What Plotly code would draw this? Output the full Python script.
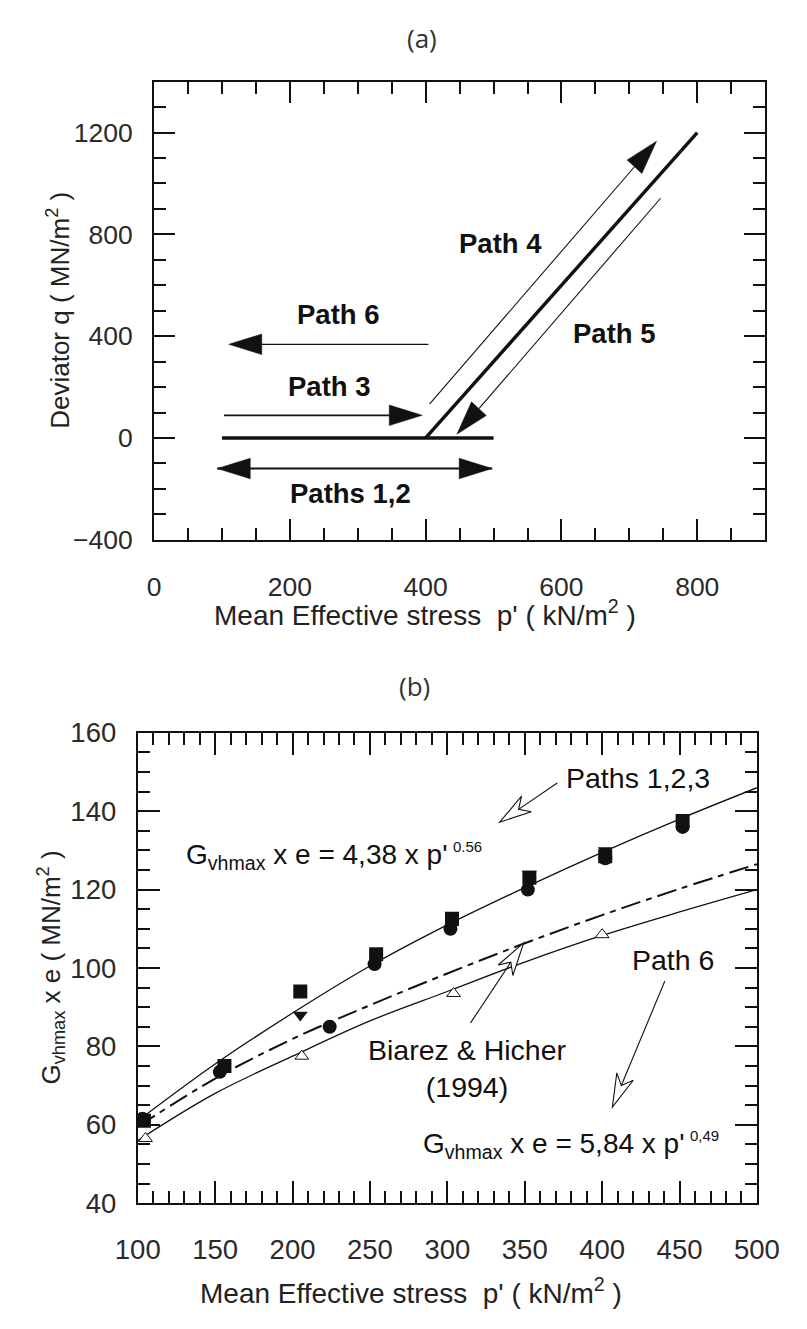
import math
import plotly.graph_objects as go

W, H = 807, 1329
FONT = "Liberation Sans, Arial, sans-serif"
INK = "#111111"

# ---------------- (a) stress paths in p'-q space ----------------
# thick reference paths
iso_p = [100, 500]
iso_q = [0, 0]
shear_p = [400, 800]
shear_q = [0, 1200]

# thin direction arrows: tail -> tip
arrow_tail_p = [406, 746, 404, 103]
arrow_tail_q = [134, 942, 368, 89]
arrow_tip_p = [740, 446, 110, 395]
arrow_tip_q = [1166, 15, 368, 89]
arrow_width = [1.1, 1.1, 1.4, 1.6]

# double-headed arrow for Paths 1,2
both_p = [93, 498]
both_q = [-120, -120]

path_labels = ["Path 4", "Path 5", "Path 6", "Path 3", "Paths 1,2"]
label_p = [510, 678, 271, 258, 290]
label_q = [764, 412, 485, 201, -218]

# ---------------- (b) stiffness vs mean effective stress ----------------
p_fit = [100, 150, 200, 250, 300, 350, 400, 450, 500]
g_paths123 = [61, 75.5, 88.5, 100.5, 111, 120.5, 129.5, 138, 146]
g_biarez = [59.5, 71.8, 81.9, 90.5, 98.6, 106.3, 113.5, 120.2, 126.5]
g_path6 = [56, 68, 77.5, 86.5, 94, 101.5, 108.3, 114.3, 120]

sq_p = [104, 156, 205, 254, 303, 353, 402, 452]
sq_g = [61, 75, 94, 103.5, 112.5, 123, 128.5, 137.5]
ci_p = [103, 153, 224, 253, 302, 352, 402, 452]
ci_g = [61.5, 73.5, 85, 101, 110, 120, 128, 136]
td_p = [205, 303, 353, 402]
td_g = [88, 113.5, 124, 130]
p6_p = [105, 206, 304, 400]
p6_g = [56.5, 77.5, 93.5, 108.5]

# ---------------- plot-area placement (pixels) ----------------
A_L, A_R, A_T, A_B = 139, 787, 68.3, 537.3
B_L, B_R, B_T, B_B = 121.7, 778.3, 735, 1216.5
A_X, A_Y = [0, 900], [-400, 1400]
B_X, B_Y = [100, 500], [40, 160]


def px_scale(l, r, t, b, xr, yr):
    return (r - l) / (xr[1] - xr[0]), (b - t) / (yr[1] - yr[0])


SA = px_scale(A_L, A_R, A_T, A_B, A_X, A_Y)
SB = px_scale(B_L, B_R, B_T, B_B, B_X, B_Y)


def head_points(tail, tip, scale, length, width, notch=0.0):
    """Arrowhead polygon (tip, barb, notch, barb) sized in pixels, returned in data units."""
    sx, sy = scale
    dx = (tip[0] - tail[0]) * sx
    dy = (tip[1] - tail[1]) * sy
    n = math.hypot(dx, dy)
    ux, uy = dx / n, dy / n
    nx, ny = -uy, ux
    bx, by = -ux * length, -uy * length
    pts = [(0, 0),
           (bx + nx * width / 2, by + ny * width / 2),
           (-ux * (length - notch), -uy * (length - notch)),
           (bx - nx * width / 2, by - ny * width / 2)]
    return [(tip[0] + px / sx, tip[1] + py / sy) for px, py in pts]


def path_str(pts):
    return "M" + " L".join(f"{x:.3f},{y:.3f}" for x, y in pts) + " Z"


fig = go.Figure()
shapes = []

# thick lines
for xs, ys in [(iso_p, iso_q), (shear_p, shear_q)]:
    fig.add_trace(go.Scatter(x=xs, y=ys, mode="lines", line=dict(color=INK, width=3.4),
                             xaxis="x", yaxis="y", showlegend=False, hoverinfo="skip"))

# single-headed thin arrows
for tp, tq, hp, hq, lw in zip(arrow_tail_p, arrow_tail_q, arrow_tip_p, arrow_tip_q, arrow_width):
    pts = head_points((tp, tq), (hp, hq), SA, 35, 21)
    fig.add_trace(go.Scatter(x=[tp, pts[2][0]], y=[tq, pts[2][1]], mode="lines",
                             line=dict(color=INK, width=lw), xaxis="x", yaxis="y",
                             showlegend=False, hoverinfo="skip"))
    shapes.append(dict(type="path", xref="x", yref="y", path=path_str(pts),
                       fillcolor=INK, line=dict(color=INK, width=0.5)))

# double-headed arrow
fig.add_trace(go.Scatter(x=both_p, y=both_q, mode="lines", line=dict(color=INK, width=1.8),
                         xaxis="x", yaxis="y", showlegend=False, hoverinfo="skip"))
for a, b in [(1, 0), (0, 1)]:
    pts = head_points((both_p[a], both_q[a]), (both_p[b], both_q[b]), SA, 35, 21)
    shapes.append(dict(type="path", xref="x", yref="y", path=path_str(pts),
                       fillcolor=INK, line=dict(color=INK, width=0.5)))

# fitted curves
fig.add_trace(go.Scatter(x=p_fit, y=g_paths123, mode="lines", line=dict(color=INK, width=1.3, shape="spline"),
                         xaxis="x2", yaxis="y2", showlegend=False))
fig.add_trace(go.Scatter(x=p_fit, y=g_path6, mode="lines", line=dict(color=INK, width=1.3, shape="spline"),
                         xaxis="x2", yaxis="y2", showlegend=False))
fig.add_trace(go.Scatter(x=p_fit, y=g_biarez, mode="lines",
                         line=dict(color=INK, width=2, shape="spline", dash="20px,6px,6px,6px"),
                         xaxis="x2", yaxis="y2", showlegend=False))

# measured points
fig.add_trace(go.Scatter(x=sq_p, y=sq_g, mode="markers", xaxis="x2", yaxis="y2", showlegend=False,
                         marker=dict(symbol="square", size=14, color=INK)))
fig.add_trace(go.Scatter(x=td_p, y=td_g, mode="markers", xaxis="x2", yaxis="y2", showlegend=False,
                         marker=dict(symbol="triangle-down", size=13, color=INK)))
fig.add_trace(go.Scatter(x=ci_p, y=ci_g, mode="markers", xaxis="x2", yaxis="y2", showlegend=False,
                         marker=dict(symbol="circle", size=14, color=INK)))
fig.add_trace(go.Scatter(x=p6_p, y=p6_g, mode="markers", xaxis="x2", yaxis="y2", showlegend=False,
                         marker=dict(symbol="triangle-up", size=12, color="white",
                                     line=dict(color=INK, width=1))))

# hollow pointer arrows in (b): tail -> tip
ptr_tail_p = [371, 315, 440.5]
ptr_tail_g = [147.2, 86, 96.7]
ptr_tip_p = [333.8, 349.3, 406.6]
ptr_tip_g = [137.2, 106.4, 64.5]
for tp, tg, hp, hg in zip(ptr_tail_p, ptr_tail_g, ptr_tip_p, ptr_tip_g):
    pts = head_points((tp, tg), (hp, hg), SB, 34, 19, notch=10)
    fig.add_trace(go.Scatter(x=[tp, pts[2][0]], y=[tg, pts[2][1]], mode="lines",
                             line=dict(color=INK, width=1.1), xaxis="x2", yaxis="y2",
                             showlegend=False, hoverinfo="skip"))
    shapes.append(dict(type="path", xref="x2", yref="y2", path=path_str(pts),
                       fillcolor="white", line=dict(color=INK, width=1.1)))


def axis(dom, rng, tickvals, minor, anchor, major_len, side_standoff, fsize):
    return dict(domain=dom, range=rng, anchor=anchor, tickvals=tickvals,
                ticks="inside", ticklen=major_len, tickwidth=1.5, tickcolor=INK,
                minor=dict(dtick=minor, ticks="inside", ticklen=12, tickwidth=1.5, tickcolor=INK),
                mirror="allticks", showline=True, linewidth=2, linecolor=INK,
                showgrid=False, zeroline=False,
                tickfont=dict(family=FONT, size=fsize, color="#2a2a2a"),
                ticklabelstandoff=side_standoff)


fig.update_layout(
    width=W, height=H, margin=dict(l=0, r=0, t=0, b=0), autosize=False,
    paper_bgcolor="white", plot_bgcolor="white",
    xaxis=axis([A_L / W, A_R / W], A_X, [0, 200, 400, 600, 800], 50, "y", 21, 22, 26.5),
    yaxis=axis([1 - A_B / H, 1 - A_T / H], A_Y, [-400, 0, 400, 800, 1200], 100, "x", 21, 14, 26.5),
    xaxis2=axis([B_L / W, B_R / W], B_X, [100, 150, 200, 250, 300, 350, 400, 450, 500], 10, "y2", 22, 21, 27.5),
    yaxis2=axis([1 - B_B / H, 1 - B_T / H], B_Y, [40, 60, 80, 100, 120, 140, 160], 5, "x2", 22, 14, 27.5),
    shapes=shapes,
)

ann = []


def px_text(text, x, y, size, angle=0, family=FONT, color="#222222"):
    ann.append(dict(text=text, x=x / W, y=1 - y / H, xref="paper", yref="paper", showarrow=False,
                    xanchor="center", yanchor="middle", textangle=angle,
                    font=dict(family=family, size=size, color=color)))


px_text("(a)", 423, 24, 26, family="Open Sans, sans-serif", color="#333333")
px_text("(b)", 415, 687, 26, family="Open Sans, sans-serif", color="#333333")
px_text("Mean Effective stress  p' ( kN/m<sup>2</sup> )", 426, 612, 28)
px_text("Mean Effective stress  p' ( kN/m<sup>2</sup> )", 411, 1306, 28)
px_text("Deviator q ( MN/m<sup>2</sup> )", 38, 302, 26, angle=-90)
px_text("G<sub>vhmax</sub> x e ( MN/m<sup>2</sup> )", 30, 975, 26, angle=-90)

for t, p, q in zip(path_labels, label_p, label_q):
    ann.append(dict(text=f"<b>{t}</b>", x=p, y=q, xref="x", yref="y", showarrow=False,
                    font=dict(family=FONT, size=27.5, color=INK)))

ann.append(dict(text="Paths 1,2,3", x=423, y=148.6, xref="x2", yref="y2", showarrow=False,
                font=dict(family=FONT, size=28.5, color=INK)))
ann.append(dict(text="Path 6", x=446, y=102, xref="x2", yref="y2", showarrow=False,
                font=dict(family=FONT, size=28.5, color=INK)))
ann.append(dict(text="Biarez &amp; Hicher<br>(1994)", x=313, y=74.3, xref="x2", yref="y2", showarrow=False,
                font=dict(family=FONT, size=28.5, color=INK)))
ann.append(dict(text="G<sub>vhmax</sub> x e = 4,38 x p'<sup> <span style='font-size:15px'>0.56</span></sup>",
                x=130, y=129, xref="x2", yref="y2", xanchor="left", showarrow=False,
                font=dict(family=FONT, size=28, color=INK)))
ann.append(dict(text="G<sub>vhmax</sub> x e = 5,84 x p'<sup> <span style='font-size:15px'>0,49</span></sup>",
                x=283, y=55.3, xref="x2", yref="y2", xanchor="left", showarrow=False,
                font=dict(family=FONT, size=28, color=INK)))

fig.update_layout(annotations=ann)
fig.write_html("out.html")
